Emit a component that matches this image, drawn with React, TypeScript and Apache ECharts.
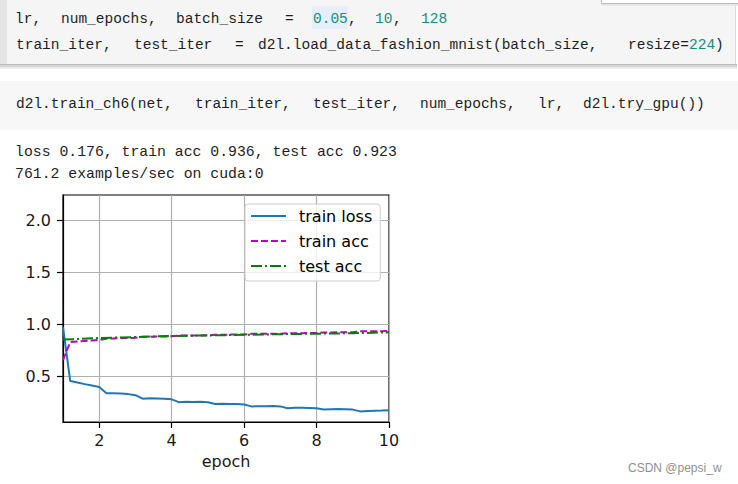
import React, { useEffect, useRef } from "react";
import * as echarts from "echarts";

// ---- chart data ----
const trainEpochs = [
  1.0, 1.2, 1.4, 1.6, 1.8, 2.0, 2.2, 2.4, 2.6, 2.8, 3.0, 3.2, 3.4, 3.6, 3.8, 4.0,
  4.2, 4.4, 4.6, 4.8, 5.0, 5.2, 5.4, 5.6, 5.8, 6.0, 6.2, 6.4, 6.6, 6.8, 7.0,
  7.2, 7.4, 7.6, 7.8, 8.0, 8.2, 8.4, 8.6, 8.8, 9.0, 9.2, 9.4, 9.6, 9.8, 10.0,
];
const trainLoss = [
  0.974, 0.455, 0.44, 0.425, 0.411, 0.397, 0.337, 0.338, 0.335, 0.329, 0.319,
  0.285, 0.289, 0.287, 0.284, 0.279, 0.252, 0.256, 0.254, 0.255, 0.251,
  0.234, 0.237, 0.235, 0.233, 0.229, 0.211, 0.213, 0.213, 0.215, 0.211,
  0.194, 0.198, 0.197, 0.196, 0.193, 0.182, 0.184, 0.185, 0.184, 0.18,
  0.163, 0.167, 0.169, 0.171, 0.175,
];
const trainAcc = [
  0.655, 0.83, 0.835, 0.84, 0.845, 0.85, 0.862, 0.864, 0.866, 0.868, 0.871,
  0.88, 0.881, 0.882, 0.883, 0.885, 0.892, 0.892, 0.893, 0.893, 0.894,
  0.9, 0.9, 0.901, 0.901, 0.902, 0.909, 0.908, 0.909, 0.909, 0.91,
  0.915, 0.915, 0.915, 0.916, 0.917, 0.922, 0.922, 0.923, 0.923, 0.924,
  0.933, 0.933, 0.933, 0.934, 0.936,
];
const testEpochs = [1, 2, 3, 4, 5, 6, 7, 8, 9, 10];
const testAcc = [0.853, 0.868, 0.878, 0.888, 0.893, 0.899, 0.905, 0.91, 0.914, 0.923];
const xTicks = [2, 4, 6, 8, 10];
const yTicks = [0.5, 1.0, 1.5, 2.0];
const seriesNames = ["train loss", "train acc", "test acc"];
const xAxisName = "epoch";

// ---- notebook text ----
const line1Tokens = ["lr,", "num_epochs,", "batch_size", "=", "0.05", ",", "10", ",", "128"];
const line2Tokens = ["train_iter,", "test_iter", "=", "d2l.load_data_fashion_mnist(batch_size,", "resize=", "224", ")"];
const line3Tokens = ["d2l.train_ch6(net,", "train_iter,", "test_iter,", "num_epochs,", "lr,", "d2l.try_gpu())"];
const outputLines = ["loss 0.176, train acc 0.936, test acc 0.923", "761.2 examples/sec on cuda:0"];
const watermark = "CSDN @pepsi_w";

const CODE_FONT = "Liberation Mono";
const CODE_COLOR = "#1e1e1e";
const NUM_COLOR = "#11907a";

export default function App() {
  const ref = useRef<HTMLDivElement>(null);

  useEffect(() => {
    if (!ref.current) return;
    const chart = echarts.init(ref.current, null, { renderer: "svg" });

    const tokenText = (text: string, x: number, y: number, color: string, size = 14.5) => ({
      type: "text",
      x,
      y,
      z: 10,
      style: {
        text,
        fill: color,
        font: `${size}px "${CODE_FONT}", monospace`,
        textVerticalAlign: "middle",
        verticalAlign: "middle",
      },
    });

    const l1x = [15, 61, 176, 285, 313, 348, 375, 393, 421];
    const l1c = [0, 0, 0, 0, 1, 0, 1, 0, 1];
    const l2x = [16, 134, 235, 258, 628, 689, 715];
    const l2c = [0, 0, 0, 0, 0, 1, 0];
    const l3x = [16, 195, 313, 420, 538, 583];

    const graphics: any[] = [
      // code cell 1
      { type: "rect", z: 1, shape: { x: 0, y: 0, width: 736, height: 64 }, style: { fill: "#f5f5f5" } },
      { type: "rect", z: 2, shape: { x: 0, y: 0, width: 7, height: 64 }, style: { fill: "#e4e4e4" } },
      { type: "line", z: 2, shape: { x1: 735.5, y1: 5, x2: 735.5, y2: 64 }, style: { stroke: "#dadada", lineWidth: 1 } },
      { type: "rect", z: 2, shape: { x: 0, y: 64, width: 737, height: 1.5 }, style: { fill: "#b9b9b9" } },
      { type: "rect", z: 2, shape: { x: 0, y: 65.5, width: 737, height: 1.5 }, style: { fill: "#d2d2d2" } },
      { type: "rect", z: 2, shape: { x: 0, y: 67, width: 737, height: 2 }, style: { fill: "#ececec" } },
      // floating box at top right
      { type: "rect", z: 3, shape: { x: 601.5, y: -4, width: 140, height: 7.5 }, style: { fill: "#ffffff", stroke: "#bdbdbd", lineWidth: 1 } },
      { type: "rect", z: 3, shape: { x: 602, y: 4, width: 136, height: 1.5 }, style: { fill: "#e2e2e2" } },
      // selection highlight
      { type: "rect", z: 4, shape: { x: 312, y: 6, width: 36, height: 23 }, style: { fill: "#e6eff9" } },
      // code cell 2
      { type: "rect", z: 1, shape: { x: 0, y: 81, width: 738, height: 49 }, style: { fill: "#f7f7f7" } },
    ];
    line1Tokens.forEach((t, i) => graphics.push(tokenText(t, l1x[i], 19, l1c[i] ? NUM_COLOR : CODE_COLOR)));
    line2Tokens.forEach((t, i) => graphics.push(tokenText(t, l2x[i], 45, l2c[i] ? NUM_COLOR : CODE_COLOR)));
    line3Tokens.forEach((t, i) => graphics.push(tokenText(t, l3x[i], 104, CODE_COLOR)));
    outputLines.forEach((t, i) => graphics.push(tokenText(t, 15, 152 + i * 21.5, CODE_COLOR, 14.8)));
    graphics.push({
      type: "text",
      x: 628,
      y: 468,
      z: 10,
      style: {
        text: watermark,
        fill: "#8f8f8f",
        font: '12px "Liberation Sans", Arial, sans-serif',
        verticalAlign: "middle",
        textVerticalAlign: "middle",
      },
    });

    const axisFont = { fontFamily: "DejaVu Sans", fontSize: 16, color: "#1a1a1a" };

    const option: any = {
      animation: false,
      backgroundColor: "#ffffff",
      textStyle: { fontFamily: "DejaVu Sans" },
      grid: {
        left: 63,
        top: 195,
        width: 326,
        height: 227,
        show: true,
        borderColor: "#000",
        borderWidth: 1.2,
        backgroundColor: "transparent",
      },
      xAxis: {
        type: "value",
        min: 1,
        max: 10,
        name: xAxisName,
        nameLocation: "middle",
        nameGap: 31,
        nameTextStyle: axisFont,
        axisLine: { show: true, onZero: false, lineStyle: { color: "#000", width: 1.2 } },
        axisTick: { show: true, length: 6, customValues: xTicks, lineStyle: { color: "#000", width: 1.2 } },
        axisLabel: { show: true, customValues: xTicks, margin: 10, ...axisFont },
        splitLine: { show: true, lineStyle: { color: "#b0b0b0", width: 1.2 } },
      },
      yAxis: {
        type: "value",
        min: 0.061,
        max: 2.243,
        axisLine: { show: true, onZero: false, lineStyle: { color: "#000", width: 1.2 } },
        axisTick: { show: true, length: 6, customValues: yTicks, lineStyle: { color: "#000", width: 1.2 } },
        axisLabel: {
          show: true,
          customValues: yTicks,
          margin: 12,
          formatter: (v: number) => v.toFixed(1),
          ...axisFont,
        },
        splitLine: { show: true, lineStyle: { color: "#b0b0b0", width: 1.2 } },
      },
      legend: {
        show: true,
        orient: "vertical",
        left: 245,
        top: 204,
        padding: [4, 8, 7, 5],
        itemWidth: 35,
        itemHeight: 14,
        itemGap: 9,
        backgroundColor: "rgba(255,255,255,0.8)",
        borderColor: "#cccccc",
        borderWidth: 1,
        borderRadius: 3,
        itemStyle: { opacity: 0 },
        lineStyle: { width: 2 },
        data: seriesNames,
        textStyle: { fontFamily: "DejaVu Sans", fontSize: 16, color: "#000", padding: [0, 0, 0, 8] },
      },
      series: [
        {
          name: seriesNames[0],
          type: "line",
          data: trainEpochs.map((x, i) => [x, trainLoss[i]]),
          symbol: "none",
          showSymbol: false,
          clip: true,
          itemStyle: { color: "#1f77b4" },
          lineStyle: { color: "#1f77b4", width: 2 },
          z: 3,
        },
        {
          name: seriesNames[1],
          type: "line",
          data: trainEpochs.map((x, i) => [x, trainAcc[i]]),
          symbol: "none",
          showSymbol: false,
          clip: true,
          itemStyle: { color: "#bf00bf" },
          lineStyle: { color: "#bf00bf", width: 2, type: [7, 3] },
          z: 4,
        },
        {
          name: seriesNames[2],
          type: "line",
          data: testEpochs.map((x, i) => [x, testAcc[i]]),
          symbol: "none",
          showSymbol: false,
          clip: true,
          itemStyle: { color: "#008000" },
          lineStyle: { color: "#008000", width: 2, type: [11, 3, 2, 3] },
          z: 5,
        },
      ],
      graphic: graphics,
    };

    chart.setOption(option);
    return () => chart.dispose();
  }, []);

  return (
    <div
      ref={ref}
      style={{ position: "absolute", left: 0, top: 0, width: 738, height: 484, background: "#fff" }}
    />
  );
}
